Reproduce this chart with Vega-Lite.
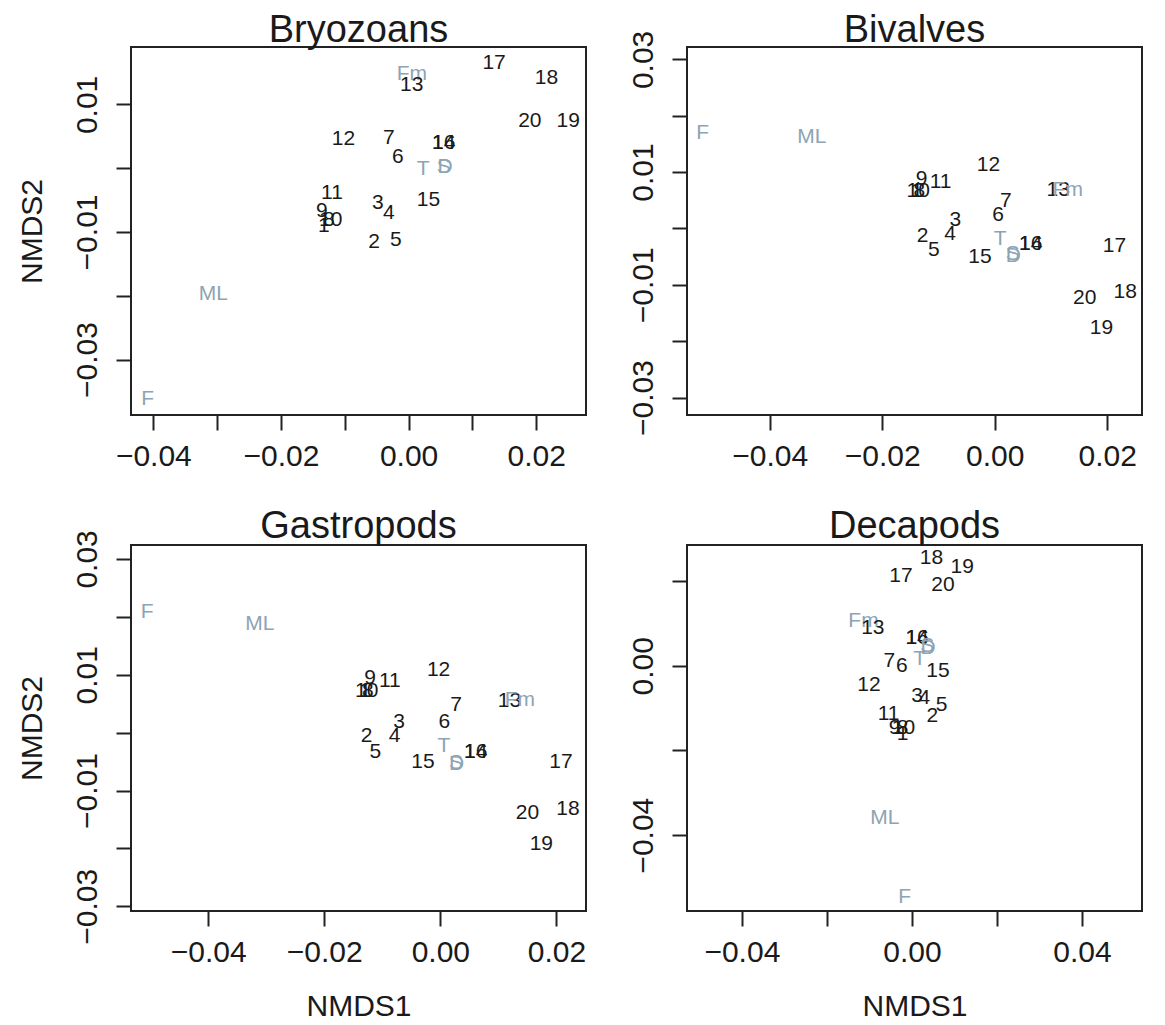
{
  "$schema": "https://vega.github.io/schema/vega-lite/v6.json",
  "background": "white",
  "padding": {"left": 15, "top": 10, "right": 5, "bottom": 3},
  "data": {"values": [
    {"panel":"Bryozoans","label":"Fm","x":0.0005,"y":0.0147,"kind":"env"},
    {"panel":"Bryozoans","label":"13","x":0.0005,"y":0.0130,"kind":"site"},
    {"panel":"Bryozoans","label":"17","x":0.0134,"y":0.0165,"kind":"site"},
    {"panel":"Bryozoans","label":"18","x":0.0216,"y":0.0142,"kind":"site"},
    {"panel":"Bryozoans","label":"20","x":0.0190,"y":0.0074,"kind":"site"},
    {"panel":"Bryozoans","label":"19","x":0.0250,"y":0.0074,"kind":"site"},
    {"panel":"Bryozoans","label":"12","x":-0.0102,"y":0.0046,"kind":"site"},
    {"panel":"Bryozoans","label":"7","x":-0.0031,"y":0.0047,"kind":"site"},
    {"panel":"Bryozoans","label":"14","x":0.0055,"y":0.0040,"kind":"site"},
    {"panel":"Bryozoans","label":"16","x":0.0055,"y":0.0040,"kind":"site"},
    {"panel":"Bryozoans","label":"6","x":-0.0017,"y":0.0017,"kind":"site"},
    {"panel":"Bryozoans","label":"T","x":0.0023,"y":-0.0002,"kind":"env"},
    {"panel":"Bryozoans","label":"S","x":0.0055,"y":0.0002,"kind":"env"},
    {"panel":"Bryozoans","label":"D","x":0.0057,"y":0.0002,"kind":"env"},
    {"panel":"Bryozoans","label":"11","x":-0.0120,"y":-0.0039,"kind":"site"},
    {"panel":"Bryozoans","label":"3","x":-0.0048,"y":-0.0054,"kind":"site"},
    {"panel":"Bryozoans","label":"4","x":-0.0031,"y":-0.0071,"kind":"site"},
    {"panel":"Bryozoans","label":"15","x":0.0031,"y":-0.0050,"kind":"site"},
    {"panel":"Bryozoans","label":"9","x":-0.0136,"y":-0.0067,"kind":"site"},
    {"panel":"Bryozoans","label":"10","x":-0.0122,"y":-0.0082,"kind":"site"},
    {"panel":"Bryozoans","label":"8","x":-0.0125,"y":-0.0082,"kind":"site"},
    {"panel":"Bryozoans","label":"1","x":-0.0133,"y":-0.0090,"kind":"site"},
    {"panel":"Bryozoans","label":"2","x":-0.0054,"y":-0.0115,"kind":"site"},
    {"panel":"Bryozoans","label":"5","x":-0.0020,"y":-0.0113,"kind":"site"},
    {"panel":"Bryozoans","label":"ML","x":-0.0306,"y":-0.0198,"kind":"env"},
    {"panel":"Bryozoans","label":"F","x":-0.0409,"y":-0.0362,"kind":"env"},

    {"panel":"Bivalves","label":"F","x":-0.0519,"y":0.0170,"kind":"env"},
    {"panel":"Bivalves","label":"ML","x":-0.0325,"y":0.0163,"kind":"env"},
    {"panel":"Bivalves","label":"12","x":-0.0011,"y":0.0112,"kind":"site"},
    {"panel":"Bivalves","label":"9","x":-0.0130,"y":0.0087,"kind":"site"},
    {"panel":"Bivalves","label":"11","x":-0.0096,"y":0.0083,"kind":"site"},
    {"panel":"Bivalves","label":"10","x":-0.0136,"y":0.0066,"kind":"site"},
    {"panel":"Bivalves","label":"8","x":-0.0134,"y":0.0066,"kind":"site"},
    {"panel":"Bivalves","label":"1","x":-0.0138,"y":0.0066,"kind":"site"},
    {"panel":"Bivalves","label":"13","x":0.0113,"y":0.0068,"kind":"site"},
    {"panel":"Bivalves","label":"Fm","x":0.0130,"y":0.0069,"kind":"env"},
    {"panel":"Bivalves","label":"7","x":0.0020,"y":0.0049,"kind":"site"},
    {"panel":"Bivalves","label":"6","x":0.0006,"y":0.0024,"kind":"site"},
    {"panel":"Bivalves","label":"3","x":-0.0070,"y":0.0015,"kind":"site"},
    {"panel":"Bivalves","label":"2","x":-0.0128,"y":-0.0013,"kind":"site"},
    {"panel":"Bivalves","label":"4","x":-0.0079,"y":-0.0009,"kind":"site"},
    {"panel":"Bivalves","label":"5","x":-0.0108,"y":-0.0038,"kind":"site"},
    {"panel":"Bivalves","label":"T","x":0.0010,"y":-0.0019,"kind":"env"},
    {"panel":"Bivalves","label":"14","x":0.0064,"y":-0.0027,"kind":"site"},
    {"panel":"Bivalves","label":"16","x":0.0064,"y":-0.0027,"kind":"site"},
    {"panel":"Bivalves","label":"15","x":-0.0026,"y":-0.0050,"kind":"site"},
    {"panel":"Bivalves","label":"S","x":0.0032,"y":-0.0046,"kind":"env"},
    {"panel":"Bivalves","label":"D","x":0.0033,"y":-0.0048,"kind":"env"},
    {"panel":"Bivalves","label":"17","x":0.0213,"y":-0.0032,"kind":"site"},
    {"panel":"Bivalves","label":"20","x":0.0160,"y":-0.0123,"kind":"site"},
    {"panel":"Bivalves","label":"18","x":0.0232,"y":-0.0113,"kind":"site"},
    {"panel":"Bivalves","label":"19","x":0.0190,"y":-0.0176,"kind":"site"},

    {"panel":"Gastropods","label":"F","x":-0.0505,"y":0.0209,"kind":"env"},
    {"panel":"Gastropods","label":"ML","x":-0.0311,"y":0.0188,"kind":"env"},
    {"panel":"Gastropods","label":"12","x":-0.0003,"y":0.0109,"kind":"site"},
    {"panel":"Gastropods","label":"9","x":-0.0121,"y":0.0094,"kind":"site"},
    {"panel":"Gastropods","label":"11","x":-0.0087,"y":0.0089,"kind":"site"},
    {"panel":"Gastropods","label":"10","x":-0.0127,"y":0.0072,"kind":"site"},
    {"panel":"Gastropods","label":"8","x":-0.0125,"y":0.0072,"kind":"site"},
    {"panel":"Gastropods","label":"1","x":-0.0129,"y":0.0072,"kind":"site"},
    {"panel":"Gastropods","label":"13","x":0.0119,"y":0.0055,"kind":"site"},
    {"panel":"Gastropods","label":"Fm","x":0.0137,"y":0.0057,"kind":"env"},
    {"panel":"Gastropods","label":"7","x":0.0027,"y":0.0047,"kind":"site"},
    {"panel":"Gastropods","label":"6","x":0.0007,"y":0.0019,"kind":"site"},
    {"panel":"Gastropods","label":"3","x":-0.0071,"y":0.0018,"kind":"site"},
    {"panel":"Gastropods","label":"2","x":-0.0127,"y":-0.0005,"kind":"site"},
    {"panel":"Gastropods","label":"4","x":-0.0079,"y":-0.0006,"kind":"site"},
    {"panel":"Gastropods","label":"5","x":-0.0112,"y":-0.0034,"kind":"site"},
    {"panel":"Gastropods","label":"T","x":0.0006,"y":-0.0023,"kind":"env"},
    {"panel":"Gastropods","label":"14","x":0.0061,"y":-0.0034,"kind":"site"},
    {"panel":"Gastropods","label":"16","x":0.0061,"y":-0.0034,"kind":"site"},
    {"panel":"Gastropods","label":"15","x":-0.0030,"y":-0.0050,"kind":"site"},
    {"panel":"Gastropods","label":"S","x":0.0027,"y":-0.0053,"kind":"env"},
    {"panel":"Gastropods","label":"D","x":0.0028,"y":-0.0054,"kind":"env"},
    {"panel":"Gastropods","label":"17","x":0.0208,"y":-0.0050,"kind":"site"},
    {"panel":"Gastropods","label":"20","x":0.0150,"y":-0.0139,"kind":"site"},
    {"panel":"Gastropods","label":"18","x":0.0220,"y":-0.0132,"kind":"site"},
    {"panel":"Gastropods","label":"19","x":0.0174,"y":-0.0193,"kind":"site"},

    {"panel":"Decapods","label":"18","x":0.0046,"y":0.0254,"kind":"site"},
    {"panel":"Decapods","label":"19","x":0.0118,"y":0.0234,"kind":"site"},
    {"panel":"Decapods","label":"17","x":-0.0026,"y":0.0211,"kind":"site"},
    {"panel":"Decapods","label":"20","x":0.0073,"y":0.0191,"kind":"site"},
    {"panel":"Decapods","label":"Fm","x":-0.0114,"y":0.0105,"kind":"env"},
    {"panel":"Decapods","label":"13","x":-0.0092,"y":0.0090,"kind":"site"},
    {"panel":"Decapods","label":"14","x":0.0012,"y":0.0066,"kind":"site"},
    {"panel":"Decapods","label":"16","x":0.0012,"y":0.0066,"kind":"site"},
    {"panel":"Decapods","label":"D","x":0.0038,"y":0.0041,"kind":"env"},
    {"panel":"Decapods","label":"S","x":0.0036,"y":0.0046,"kind":"env"},
    {"panel":"Decapods","label":"T","x":0.0018,"y":0.0016,"kind":"env"},
    {"panel":"Decapods","label":"7","x":-0.0053,"y":0.0010,"kind":"site"},
    {"panel":"Decapods","label":"6","x":-0.0024,"y":0.0000,"kind":"site"},
    {"panel":"Decapods","label":"15","x":0.0061,"y":-0.0012,"kind":"site"},
    {"panel":"Decapods","label":"12","x":-0.0101,"y":-0.0045,"kind":"site"},
    {"panel":"Decapods","label":"3","x":0.0012,"y":-0.0071,"kind":"site"},
    {"panel":"Decapods","label":"4","x":0.0029,"y":-0.0075,"kind":"site"},
    {"panel":"Decapods","label":"5","x":0.0070,"y":-0.0092,"kind":"site"},
    {"panel":"Decapods","label":"2","x":0.0048,"y":-0.0119,"kind":"site"},
    {"panel":"Decapods","label":"11","x":-0.0055,"y":-0.0114,"kind":"site"},
    {"panel":"Decapods","label":"9","x":-0.0041,"y":-0.0147,"kind":"site"},
    {"panel":"Decapods","label":"10","x":-0.0020,"y":-0.0147,"kind":"site"},
    {"panel":"Decapods","label":"8","x":-0.0022,"y":-0.0147,"kind":"site"},
    {"panel":"Decapods","label":"1","x":-0.0022,"y":-0.0162,"kind":"site"},
    {"panel":"Decapods","label":"ML","x":-0.0064,"y":-0.0359,"kind":"env"},
    {"panel":"Decapods","label":"F","x":-0.0017,"y":-0.0547,"kind":"env"}
  ]},
  "columns": 2,
  "spacing": {"row": 130, "column": 101},
  "bounds": "flush",
  "concat": [
    {
      "title": {"text": "Bryozoans", "offset": -2.5},
      "width": 455, "height": 368,
      "transform": [{"filter": "datum.panel === 'Bryozoans'"}],
      "mark": {"type": "text", "fontSize": 21, "font": "Liberation Sans", "align": "center", "baseline": "middle"},
      "encoding": {
        "x": {"field": "x", "type": "quantitative",
              "scale": {"domain": [-0.0435, 0.0278], "nice": false, "zero": false},
              "axis": {"title": null, "format": ".2f", "values": [-0.04, -0.03, -0.02, -0.01, 0, 0.01, 0.02],
                       "labelExpr": "abs(round(datum.value*100)) % 2 == 0 ? datum.label : ''"}},
        "y": {"field": "y", "type": "quantitative",
              "scale": {"domain": [-0.0387, 0.0190], "nice": false, "zero": false},
              "axis": {"title": "NMDS2", "format": ".2f", "values": [0.01, 0, -0.01, -0.02, -0.03],
                       "labelExpr": "abs(round(datum.value*100)) % 2 == 1 ? datum.label : ''"}},
        "text": {"field": "label"},
        "color": {"field": "kind", "type": "nominal", "scale": {"domain": ["site", "env"], "range": ["#1a1a1a", "#8da4b4"]}, "legend": null}
      }
    },
    {
      "title": {"text": "Bivalves", "offset": -19.3},
      "width": 455, "height": 368,
      "transform": [{"filter": "datum.panel === 'Bivalves'"}],
      "mark": {"type": "text", "fontSize": 21, "font": "Liberation Sans", "align": "center", "baseline": "middle"},
      "encoding": {
        "x": {"field": "x", "type": "quantitative",
              "scale": {"domain": [-0.0547, 0.0262], "nice": false, "zero": false},
              "axis": {"title": null, "format": ".2f", "values": [-0.04, -0.02, 0, 0.02]}},
        "y": {"field": "y", "type": "quantitative",
              "scale": {"domain": [-0.0331, 0.0322], "nice": false, "zero": false},
              "axis": {"title": null, "format": ".2f", "values": [0.03, 0.02, 0.01, 0, -0.01, -0.02, -0.03],
                       "labelExpr": "abs(round(datum.value*100)) % 2 == 1 ? datum.label : ''"}},
        "text": {"field": "label"},
        "color": {"field": "kind", "type": "nominal", "scale": {"domain": ["site", "env"], "range": ["#1a1a1a", "#8da4b4"]}, "legend": null}
      }
    },
    {
      "title": {"text": "Gastropods", "offset": -15.8},
      "width": 455, "height": 366,
      "transform": [{"filter": "datum.panel === 'Gastropods'"}],
      "mark": {"type": "text", "fontSize": 21, "font": "Liberation Sans", "align": "center", "baseline": "middle"},
      "encoding": {
        "x": {"field": "x", "type": "quantitative",
              "scale": {"domain": [-0.0533, 0.0251], "nice": false, "zero": false},
              "axis": {"title": "NMDS1", "format": ".2f", "values": [-0.04, -0.02, 0, 0.02]}},
        "y": {"field": "y", "type": "quantitative",
              "scale": {"domain": [-0.0308, 0.0324], "nice": false, "zero": false},
              "axis": {"title": "NMDS2", "format": ".2f", "values": [0.03, 0.02, 0.01, 0, -0.01, -0.02, -0.03],
                       "labelExpr": "abs(round(datum.value*100)) % 2 == 1 ? datum.label : ''"}},
        "text": {"field": "label"},
        "color": {"field": "kind", "type": "nominal", "scale": {"domain": ["site", "env"], "range": ["#1a1a1a", "#8da4b4"]}, "legend": null}
      }
    },
    {
      "title": {"text": "Decapods", "offset": -0.5},
      "width": 455, "height": 366,
      "transform": [{"filter": "datum.panel === 'Decapods'"}],
      "mark": {"type": "text", "fontSize": 21, "font": "Liberation Sans", "align": "center", "baseline": "middle"},
      "encoding": {
        "x": {"field": "x", "type": "quantitative",
              "scale": {"domain": [-0.0529, 0.0541], "nice": false, "zero": false},
              "axis": {"title": "NMDS1", "format": ".2f", "values": [-0.04, -0.02, 0, 0.02, 0.04],
                       "labelExpr": "abs(round(datum.value*100)) % 4 == 0 ? datum.label : ''"}},
        "y": {"field": "y", "type": "quantitative",
              "scale": {"domain": [-0.0579, 0.0285], "nice": false, "zero": false},
              "axis": {"title": null, "format": ".2f", "values": [0.02, 0, -0.02, -0.04],
                       "labelExpr": "abs(round(datum.value*100)) % 4 == 0 ? datum.label : ''"}},
        "text": {"field": "label"},
        "color": {"field": "kind", "type": "nominal", "scale": {"domain": ["site", "env"], "range": ["#1a1a1a", "#8da4b4"]}, "legend": null}
      }
    }
  ],
  "config": {
    "view": {"stroke": "#222222", "strokeWidth": 2},
    "axis": {
      "domain": false, "grid": false, "ticks": true, "tickSize": 15, "tickWidth": 2, "tickColor": "#222222",
      "labelFont": "Liberation Sans", "labelFontSize": 30, "labelColor": "#1a1a1a",
      "titleFont": "Liberation Sans", "titleFontSize": 30, "titleFontWeight": "normal", "titleColor": "#1a1a1a",
      "labelFlush": false, "labelOverlap": false
    },
    "axisX": {"labelPadding": 11, "titlePadding": 24},
    "axisY": {"labelAngle": -90, "labelAlign": "center", "labelBaseline": "bottom", "labelPadding": 14, "titlePadding": 25},
    "title": {"font": "Liberation Sans", "fontSize": 38, "fontWeight": "normal", "color": "#1a1a1a", "baseline": "alphabetic", "anchor": "middle", "frame": "group"}
  }
}
